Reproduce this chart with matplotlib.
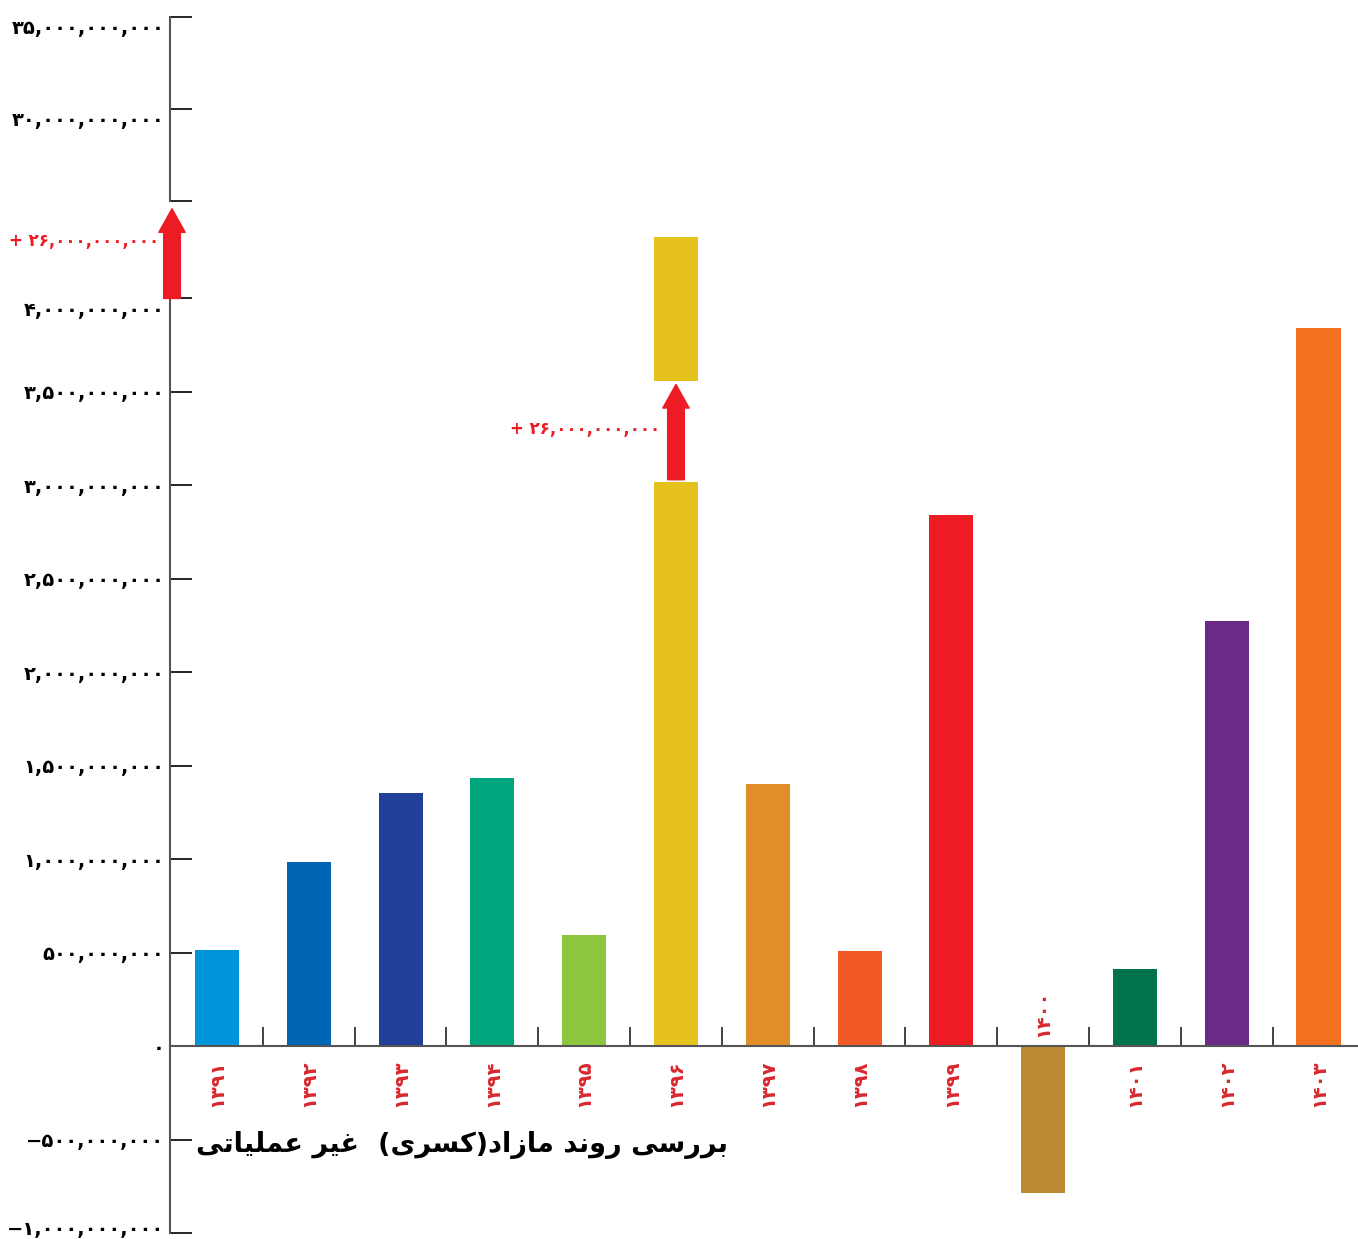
import numpy as np
import matplotlib
matplotlib.use("Agg")
import matplotlib.pyplot as plt
import matplotlib.transforms as mtransforms

# data (rial)
years = ["1391", "1392", "1393", "1394", "1395", "1396", "1397",
         "1398", "1399", "1400", "1401", "1402", "1403"]
values = [0.513e9, 0.984e9, 1.353e9, 1.433e9, 0.594e9, 3.02e9, 1.401e9,
          0.508e9, 2.84e9, -0.786e9, 0.412e9, 2.273e9, 3.84e9]
colors = ["#0095da", "#0066b3", "#21409a", "#00a67e", "#8dc63f", "#e6c21f",
          "#e08e27", "#f15a24", "#ed1c24", "#bb8833", "#00734a", "#6b2a87",
          "#f37021"]
# 1396 bar is broken: remaining piece drawn above the break
break_idx = 5
break_piece = (3.56e9, 4.33e9)
offset_label = 26e9
lower_ticks = [-1e9, -0.5e9, 0, 0.5e9, 1e9, 1.5e9, 2e9, 2.5e9, 3e9, 3.5e9, 4e9]
upper_ticks = [25e9, 30e9, 35e9]
title = "بررسی روند مازاد(کسری)  غیر عملیاتی"

FA = str.maketrans("0123456789", "۰۱۲۳۴۵۶۷۸۹")

def fa_num(v):
    s = f"{abs(int(v)):,}".translate(FA)
    return ("−" if v < 0 else "") + s

# contextual forms, since matplotlib does no arabic shaping
FORMS = {
    'ا': ('\uFE8D', '\uFE8E', None, None),
    'ب': ('\uFE8F', '\uFE90', '\uFE91', '\uFE92'),
    'ت': ('\uFE95', '\uFE96', '\uFE97', '\uFE98'),
    'د': ('\uFEA9', '\uFEAA', None, None),
    'ر': ('\uFEAD', '\uFEAE', None, None),
    'ز': ('\uFEAF', '\uFEB0', None, None),
    'س': ('\uFEB1', '\uFEB2', '\uFEB3', '\uFEB4'),
    'ع': ('\uFEC9', '\uFECA', '\uFECB', '\uFECC'),
    'غ': ('\uFECD', '\uFECE', '\uFECF', '\uFED0'),
    'ک': ('\uFB8E', '\uFB8F', '\uFB90', '\uFB91'),
    'ل': ('\uFEDD', '\uFEDE', '\uFEDF', '\uFEE0'),
    'م': ('\uFEE1', '\uFEE2', '\uFEE3', '\uFEE4'),
    'ن': ('\uFEE5', '\uFEE6', '\uFEE7', '\uFEE8'),
    'و': ('\uFEED', '\uFEEE', None, None),
    'ی': ('\uFBFC', '\uFBFD', '\uFBFE', '\uFBFF'),
}

def rtl(s):
    out = []
    for i, c in enumerate(s):
        if c not in FORMS:
            out.append(c)
            continue
        prev = i > 0 and s[i-1] in FORMS and FORMS[s[i-1]][2] is not None
        nxt = i + 1 < len(s) and s[i+1] in FORMS and FORMS[c][2] is not None
        iso, fin, ini, med = FORMS[c]
        if prev and nxt:
            out.append(med)
        elif prev:
            out.append(fin)
        elif nxt:
            out.append(ini)
        else:
            out.append(iso)
    vis = "".join(out)[::-1]
    return vis.translate(str.maketrans("()", ")("))

plt.rcParams['font.family'] = ['DejaVu Sans']

fig = plt.figure(figsize=(13.58, 12.39), dpi=100)
W, H = 1358, 1239
left = 170 / W
ax = fig.add_axes([left, 1 - 1233 / H, 1 - left, (1233 - 205) / H])
axt = fig.add_axes([left, 1 - 201 / H, 1 - left, (201 - 17) / H])

x = np.arange(len(years))
red = "#ed1c24"
gray = "#555555"

ax.bar(x, values, width=0.48, color=colors, zorder=2)
ax.bar(x[break_idx], break_piece[1] - break_piece[0], bottom=break_piece[0],
       width=0.48, color=colors[break_idx], zorder=2, clip_on=False)

ax.set_xlim(-0.512, 12.43)
ax.set_ylim(-1e9, 4.5e9)
for s in ["top", "right"]:
    ax.spines[s].set_visible(False)
ax.spines["bottom"].set_position(("data", 0))
ax.spines["bottom"].set_color(gray)
ax.spines["bottom"].set_linewidth(1.5)
ax.spines["bottom"].set_zorder(3)
ax.spines["left"].set_bounds(-1e9, 4e9)
ax.spines["left"].set_color(gray)
ax.spines["left"].set_linewidth(1.5)

ax.set_yticks(lower_ticks)
ax.set_yticklabels([fa_num(v) for v in lower_ticks], fontsize=14, fontweight="bold")
ax.tick_params(axis="y", direction="in", length=16, width=1.2, pad=4)
ax.set_xticks([])
ax.set_xticks(x[:-1] + 0.5, minor=True)
ax.tick_params(axis="x", which="minor", direction="in", length=14, width=1.2,
               color="#222222")
# top label sits a little below its tick, bottom one a little above
down = mtransforms.ScaledTranslation(0, -7 / 72, fig.dpi_scale_trans)
up = mtransforms.ScaledTranslation(0, 4 / 72, fig.dpi_scale_trans)
ylabels = ax.get_yticklabels()
ylabels[-1].set_transform(ylabels[-1].get_transform() + down)
ylabels[0].set_transform(ylabels[0].get_transform() + up)

for i, (yr, v) in enumerate(zip(years, values)):
    if v >= 0:
        ax.text(i, -0.07e9, yr.translate(FA), rotation=90, ha="center", va="top",
                color="#d7282f", fontsize=14, fontweight="bold")
    else:
        ax.text(i, 0.05e9, yr.translate(FA), rotation=90, ha="center", va="bottom",
                color="#d7282f", fontsize=14, fontweight="bold")

ax.text(5.57, -0.53e9, rtl(title), ha="right", va="center", fontsize=19.5,
        fontweight="bold", color="black")

# break arrows
arrow = dict(arrowstyle="simple,head_length=17,head_width=19,tail_width=12",
             mutation_scale=1, color=red, shrinkA=0, shrinkB=0)
ax.annotate("", xy=(-0.49, 4.48e9), xytext=(-0.49, 4.0e9),
            arrowprops=arrow, annotation_clip=False)
ax.text(-0.63, 4.31e9, "+ " + fa_num(offset_label), ha="right", va="center",
        color=red, fontsize=12, fontweight="bold", clip_on=False)
ax.annotate("", xy=(x[break_idx], 3.54e9), xytext=(x[break_idx], 3.03e9),
            arrowprops=arrow, annotation_clip=False)
ax.text(x[break_idx] - 0.17, 3.3e9, "+ " + fa_num(offset_label), ha="right",
        va="center", color=red, fontsize=12, fontweight="bold")

# upper part of the broken axis
axt.set_xlim(ax.get_xlim())
axt.set_ylim(25e9, 35e9)
for s in ["top", "right", "bottom"]:
    axt.spines[s].set_visible(False)
axt.spines["left"].set_color(gray)
axt.spines["left"].set_linewidth(1.5)
axt.set_xticks([])
axt.set_yticks(upper_ticks)
axt.set_yticklabels(["" if v == 25e9 else fa_num(v) for v in upper_ticks],
                    fontsize=14, fontweight="bold")
axt.tick_params(axis="y", direction="in", length=16, width=1.2, pad=4)
for lbl in axt.get_yticklabels():
    lbl.set_transform(lbl.get_transform() + down)
axt.patch.set_alpha(0)

fig.savefig("out.png", dpi=100)
